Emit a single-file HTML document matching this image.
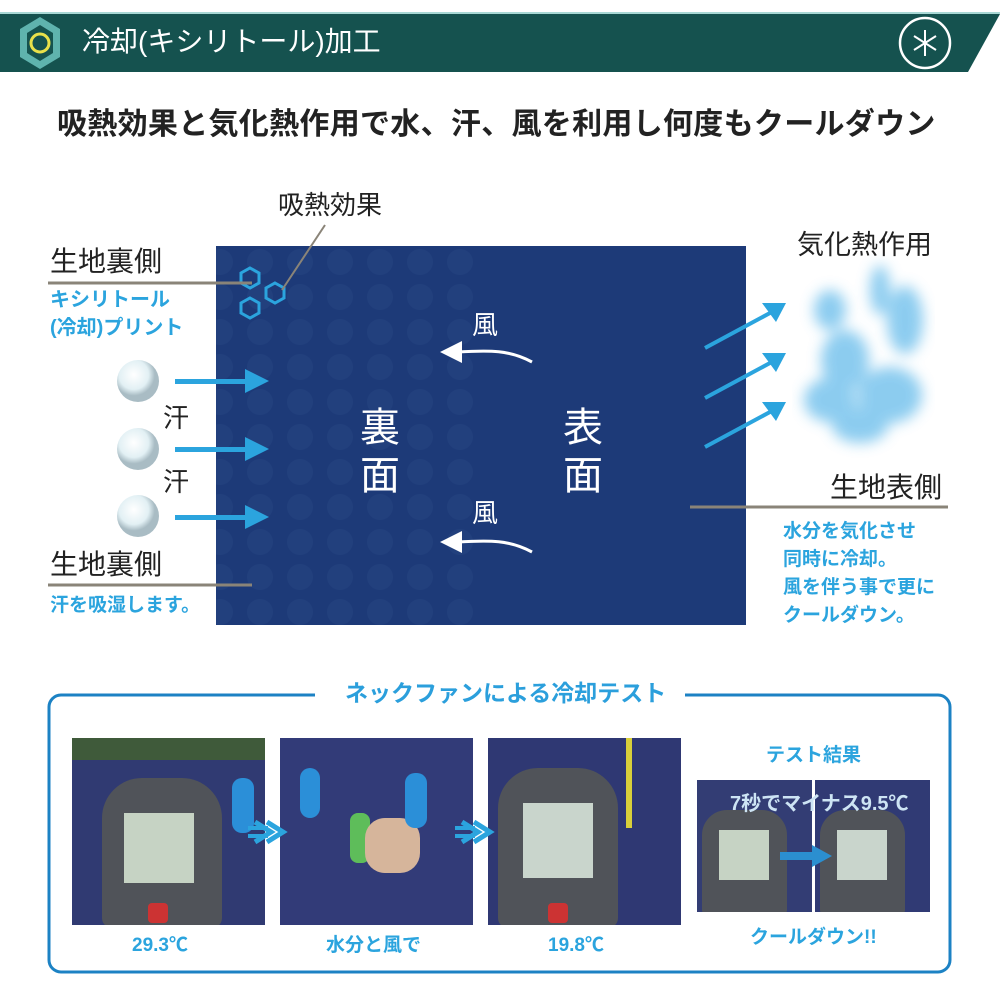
<!DOCTYPE html>
<html><head><meta charset="utf-8"><style>
*{margin:0;padding:0;box-sizing:border-box}
body{width:1000px;height:1000px;background:#fff;position:relative;overflow:hidden;font-family:"Liberation Sans","Noto Sans CJK JP",sans-serif}
.a{position:absolute;white-space:nowrap;line-height:1}
.blue{color:#2ba4de;font-weight:bold}
.photo{position:absolute;overflow:hidden;background:#2d3570}
</style></head><body>
<svg width="1000" height="1000" style="position:absolute;left:0;top:0">
<defs>
<filter id="bl"><feGaussianBlur stdDeviation="7"/></filter>
<radialGradient id="drop" cx="40%" cy="35%"><stop offset="0" stop-color="#fff"/><stop offset=".7" stop-color="#e2f0f4"/><stop offset="1" stop-color="#a9bcc4"/></radialGradient>
<pattern id="hx" width="40" height="35" patternUnits="userSpaceOnUse"><circle cx="20" cy="17" r="13" fill="#2a4985" opacity=".35"/></pattern>
</defs>
<line x1="0" y1="13" x2="1000" y2="13" stroke="#a8d8d5" stroke-width="2"/>
<polygon points="0,14 1000,14 968,72 0,72" fill="#15524f"/>
<polygon points="40,17 60,29 60,57 40,69 20,57 20,29" fill="#5fb3ae"/>
<polygon points="40,25 53,33 53,53 40,61 27,53 27,33" fill="#15524f"/>
<circle cx="40" cy="43" r="9" fill="none" stroke="#e8e04a" stroke-width="3"/>
<circle cx="925" cy="43" r="25" fill="none" stroke="#fff" stroke-width="2.5"/>
<g stroke="#fff" stroke-width="2"><line x1="925" y1="30" x2="925" y2="56"/><line x1="914" y1="36" x2="936" y2="50"/><line x1="914" y1="50" x2="936" y2="36"/></g>
<rect x="216" y="246" width="530" height="379" fill="#1d3a78"/>
<rect x="216" y="246" width="270" height="379" fill="url(#hx)"/>
<g fill="none" stroke="#2ba4de" stroke-width="3">
<polygon points="250,268 259,273 259,283 250,288 241,283 241,273"/>
<polygon points="275,283 284,288 284,298 275,303 266,298 266,288"/>
<polygon points="250,298 259,303 259,313 250,318 241,313 241,303"/>
</g>
<line x1="325" y1="225" x2="282" y2="290" stroke="#8a8478" stroke-width="2"/>
<line x1="48" y1="283" x2="252" y2="283" stroke="#8a8478" stroke-width="3"/>
<line x1="48" y1="585" x2="252" y2="585" stroke="#8a8478" stroke-width="3"/>
<line x1="690" y1="507" x2="948" y2="507" stroke="#8a8478" stroke-width="3"/>
<circle cx="138" cy="381" r="21" fill="url(#drop)"/>
<circle cx="138" cy="449" r="21" fill="url(#drop)"/>
<circle cx="138" cy="516" r="21" fill="url(#drop)"/>
<g fill="#2ba4de">
<rect x="175" y="379" width="70" height="5"/><polygon points="245,369 269,381 245,393"/>
<rect x="175" y="447" width="70" height="5"/><polygon points="245,437 269,449 245,461"/>
<rect x="175" y="515" width="70" height="5"/><polygon points="245,505 269,517 245,529"/>
</g>
<g fill="none" stroke="#fff" stroke-width="3"><path d="M532,362 C510,350 490,350 458,352"/><path d="M532,552 C510,540 490,540 458,542"/></g>
<g fill="#fff"><polygon points="440,352 462,341 462,363"/><polygon points="440,542 462,531 462,553"/></g>
<g fill="#6fc0ec" filter="url(#bl)" opacity=".8">
<ellipse cx="830" cy="310" rx="16" ry="20"/><ellipse cx="905" cy="320" rx="18" ry="34"/>
<ellipse cx="845" cy="360" rx="24" ry="30"/><ellipse cx="830" cy="400" rx="26" ry="22"/>
<ellipse cx="890" cy="395" rx="32" ry="28"/><ellipse cx="860" cy="425" rx="28" ry="18"/>
<ellipse cx="880" cy="290" rx="10" ry="25"/>
</g>
<g stroke="#2ba4de" stroke-width="4"><line x1="705" y1="348" x2="770" y2="313"/><line x1="705" y1="398" x2="770" y2="363"/><line x1="705" y1="447" x2="770" y2="412"/></g>
<g fill="#2ba4de"><polygon points="786,303 762,303 776,322"/><polygon points="786,353 762,353 776,372"/><polygon points="786,402 762,402 776,421"/></g>
<rect x="49" y="695" width="901" height="277" rx="12" fill="none" stroke="#1c82c4" stroke-width="3"/>
<rect x="315" y="680" width="370" height="30" fill="#fff"/>
</svg>
<div class="a" style="left:82px;top:28px;font-size:28px;color:#fff">冷却(キシリトール)加工</div>
<div class="a" style="left:57px;top:110px;font-size:30px;font-weight:bold;color:#222;letter-spacing:0.3px">吸熱効果と気化熱作用で水、汗、風を利用し何度もクールダウン</div>
<div class="a" style="left:278px;top:192px;font-size:26px;color:#222">吸熱効果</div>
<div class="a" style="left:50px;top:248px;font-size:28px;color:#222">生地裏側</div>
<div class="a blue" style="left:50px;top:290px;font-size:20px">キシリトール</div>
<div class="a blue" style="left:50px;top:318px;font-size:20px">(冷却)プリント</div>
<div class="a" style="left:163px;top:405px;font-size:26px;color:#222">汗</div>
<div class="a" style="left:163px;top:469px;font-size:26px;color:#222">汗</div>
<div class="a" style="left:50px;top:551px;font-size:28px;color:#222">生地裏側</div>
<div class="a blue" style="left:50px;top:596px;font-size:19px">汗を吸湿します。</div>
<div class="a" style="left:360px;top:404px;font-size:40px;color:#fff;line-height:48px;width:44px">裏<br>面</div>
<div class="a" style="left:563px;top:404px;font-size:40px;color:#fff;line-height:48px;width:44px">表<br>面</div>
<div class="a" style="left:472px;top:312px;font-size:26px;color:#fff">風</div>
<div class="a" style="left:472px;top:500px;font-size:26px;color:#fff">風</div>
<div class="a" style="left:797px;top:232px;font-size:27px;color:#222">気化熱作用</div>
<div class="a" style="left:830px;top:474px;font-size:28px;color:#222">生地表側</div>
<div class="a blue" style="left:783px;top:518px;font-size:19px;line-height:28px">水分を気化させ<br>同時に冷却。<br>風を伴う事で更に<br>クールダウン。</div>
<div class="a blue" style="left:345px;top:682px;font-size:23px;color:#2b9fdc">ネックファンによる冷却テスト</div>
<div class="photo" style="left:72px;top:738px;width:193px;height:187px;background:#303a72"><div style="position:absolute;left:30px;top:40px;width:120px;height:150px;background:#505359;border-radius:40px 40px 10px 10px"></div><div style="position:absolute;left:52px;top:75px;width:70px;height:70px;background:#c6d3c4"></div><div style="position:absolute;left:76px;top:165px;width:20px;height:20px;background:#c33;border-radius:4px"></div><div style="position:absolute;left:0;top:0;width:193px;height:22px;background:#3f5a3a"></div><div style="position:absolute;left:160px;top:40px;width:22px;height:55px;background:#2b8fd8;border-radius:10px"></div></div>
<div class="photo" style="left:280px;top:738px;width:193px;height:187px;background:#323b78"><div style="position:absolute;left:70px;top:75px;width:20px;height:50px;background:#5ebd5a;border-radius:8px"></div><div style="position:absolute;left:85px;top:80px;width:55px;height:55px;background:#d6b59b;border-radius:20px"></div><div style="position:absolute;left:20px;top:30px;width:20px;height:50px;background:#2b8fd8;border-radius:10px"></div><div style="position:absolute;left:125px;top:35px;width:22px;height:55px;background:#2b8fd8;border-radius:10px"></div></div>
<div class="photo" style="left:488px;top:738px;width:193px;height:187px;background:#2f3873"><div style="position:absolute;left:10px;top:30px;width:120px;height:160px;background:#505359;border-radius:40px 40px 10px 10px"></div><div style="position:absolute;left:35px;top:65px;width:70px;height:75px;background:#c9d5cc"></div><div style="position:absolute;left:60px;top:165px;width:20px;height:20px;background:#c33;border-radius:4px"></div><div style="position:absolute;left:138px;top:0;width:6px;height:90px;background:#d8cf3a"></div></div>
<svg width="1000" height="1000" style="position:absolute;left:0;top:0">
<g fill="none" stroke="#2ba4de" stroke-width="5"><polyline points="255,822 271,832 255,842"/><polyline points="267,822 283,832 267,842"/><polyline points="462,822 478,832 462,842"/><polyline points="474,822 490,832 474,842"/></g>
<g fill="#2ba4de"><rect x="248" y="826" width="20" height="4"/><rect x="248" y="834" width="20" height="4"/><rect x="455" y="826" width="20" height="4"/><rect x="455" y="834" width="20" height="4"/></g>
</svg>
<div class="a blue" style="left:766px;top:746px;font-size:19px">テスト結果</div>
<div class="photo" style="left:697px;top:780px;width:115px;height:132px;background:#333d74"><div style="position:absolute;left:5px;top:30px;width:85px;height:105px;background:#505359;border-radius:25px 25px 5px 5px"></div><div style="position:absolute;left:22px;top:50px;width:50px;height:50px;background:#c6d3c4"></div></div>
<div class="photo" style="left:815px;top:780px;width:115px;height:132px;background:#303a74"><div style="position:absolute;left:5px;top:30px;width:85px;height:105px;background:#505359;border-radius:25px 25px 5px 5px"></div><div style="position:absolute;left:22px;top:50px;width:50px;height:50px;background:#c9d5cc"></div></div>
<div class="a" style="left:730px;top:794px;font-size:20px;color:#cde4f4;font-weight:bold">7秒でマイナス9.5℃</div>
<div style="position:absolute;left:780px;top:852px;width:32px;height:8px;background:#2b8fd0"></div>
<div style="position:absolute;left:812px;top:845px;width:0;height:0;border-left:20px solid #2b8fd0;border-top:11px solid transparent;border-bottom:11px solid transparent"></div>
<div class="a blue" style="left:750px;top:928px;font-size:19px">クールダウン!!</div>
<div class="a blue" style="left:132px;top:936px;font-size:19px">29.3℃</div>
<div class="a blue" style="left:326px;top:936px;font-size:19px">水分と風で</div>
<div class="a blue" style="left:548px;top:936px;font-size:19px">19.8℃</div>
</body></html>
